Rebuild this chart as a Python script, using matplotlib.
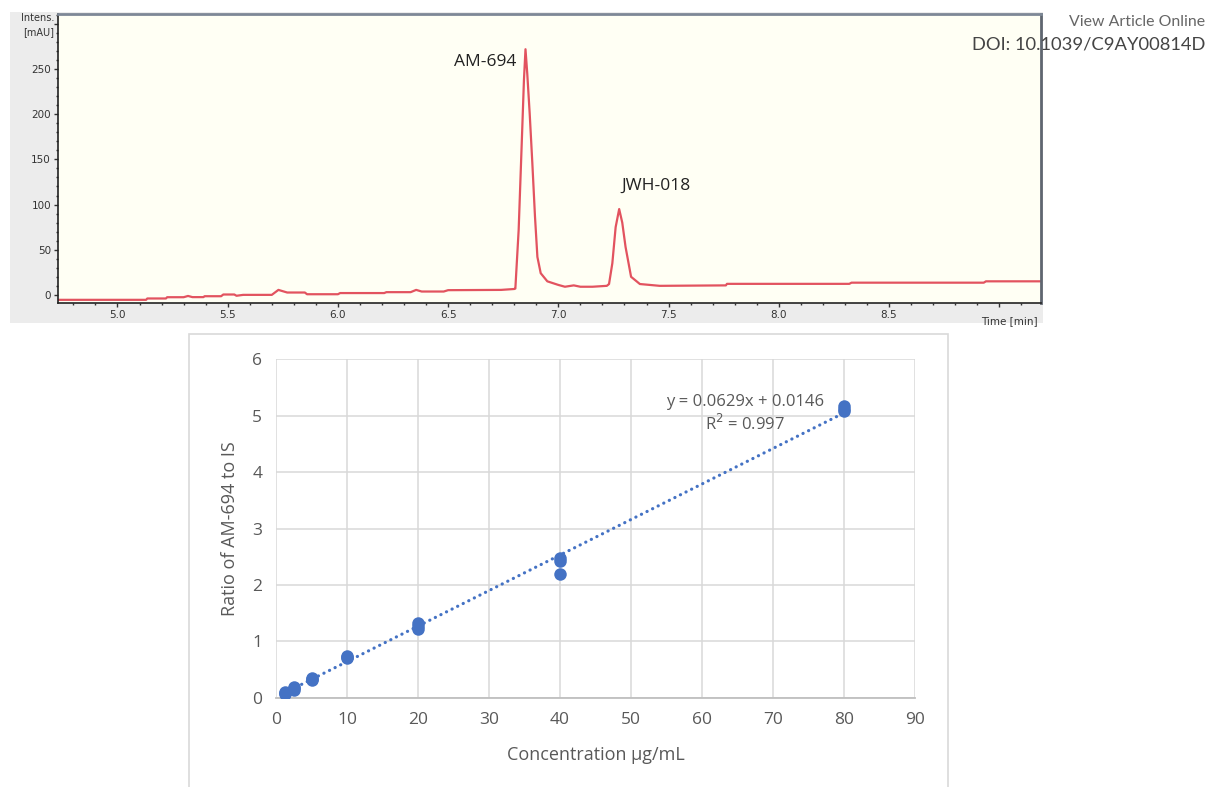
import numpy as np
import matplotlib
matplotlib.use("Agg")
import matplotlib.pyplot as plt
from matplotlib.patches import Rectangle
from matplotlib.ticker import MultipleLocator

# chromatogram trace (time in min, intensity in mAU)
trace_time = [4.73, 5.13, 5.135, 5.22, 5.225, 5.30, 5.32, 5.34, 5.39, 5.395,
              5.47, 5.48, 5.53, 5.54, 5.57, 5.70, 5.73, 5.77, 5.85, 5.86,
              6.00, 6.01, 6.21, 6.22, 6.33, 6.355, 6.38, 6.48, 6.50, 6.74,
              6.80, 6.805, 6.82, 6.836, 6.844, 6.851, 6.859, 6.87, 6.882, 6.894,
              6.905, 6.92, 6.95, 7.00, 7.03, 7.07, 7.10, 7.155, 7.22, 7.23,
              7.245, 7.26, 7.276, 7.29, 7.305, 7.33, 7.37, 7.46, 7.76, 7.765,
              8.32, 8.33, 8.93, 8.94, 9.19]
trace_int = [-5.5, -5.5, -4, -4, -2.6, -2.6, -1.2, -2.5, -2.5, -1.5,
             -1.5, 0.4, 0.4, -1, 0, 0, 5.5, 2.6, 2.6, 0.7,
             0.7, 2, 2, 3, 3, 5.5, 3.7, 3.7, 5.2, 5.5,
             6.5, 7, 72, 182, 238, 272, 245, 201, 146, 87,
             42, 24, 15, 11, 9, 10.5, 9, 9, 10, 12,
             35, 75, 95, 80, 53, 20, 12, 10, 10.5, 12.2,
             12.2, 13.5, 13.5, 15, 15]
peak_names = ["AM-694", "JWH-018"]
peak_label_x = [6.668, 7.445]
peak_label_y = [258, 121]

# calibration data
conc = [1.25, 1.25, 1.25, 2.5, 2.5, 2.5, 5, 5, 5, 10, 10, 10,
        20, 20, 20, 40, 40, 40, 80, 80, 80]
ratio = [0.07, 0.09, 0.10, 0.15, 0.18, 0.20, 0.31, 0.33, 0.35, 0.70, 0.73, 0.75,
         1.23, 1.28, 1.33, 2.20, 2.42, 2.48, 5.08, 5.12, 5.16]
slope = 0.0629
intercept = 0.0146
r2 = 0.997

fig = plt.figure(figsize=(12.08, 7.87), dpi=100)
fig.patch.set_facecolor("white")

# grey panel behind the chromatogram
fig.patches.append(Rectangle((0.0083, 0.5896), 0.855, 0.395, transform=fig.transFigure,
                             facecolor="#ececec", edgecolor="none", zorder=-2))

ax1 = fig.add_axes([0.048, 0.615, 0.8138, 0.3672])
ax1.set_facecolor("#fffff4")
ax1.plot(trace_time, trace_int, color="#e2535f", lw=1.6)
ax1.set_xlim(4.73, 9.19)
ax1.set_ylim(-9, 311)
ax1.xaxis.set_minor_locator(MultipleLocator(0.1))
ax1.yaxis.set_minor_locator(MultipleLocator(10))
ax1.set_yticks([0, 50, 100, 150, 200, 250, 300])
ax1.set_yticklabels(["0", "50", "100", "150", "200", "250", ""])
xt = np.arange(5.0, 9.01, 0.5)
ax1.set_xticks(xt)
ax1.set_xticklabels(["%.1f" % v for v in xt[:-1]] + [""])
ax1.tick_params(axis="both", which="major", labelsize=7.5, color="#333333",
                length=3, width=1, labelcolor="#333333", pad=2)
ax1.tick_params(axis="both", which="minor", length=1.5, width=1, color="#333333")
for s in ["left", "bottom"]:
    ax1.spines[s].set_color("#222222")
    ax1.spines[s].set_linewidth(1.2)
ax1.spines["top"].set_color("#7d8896")
ax1.spines["top"].set_linewidth(2)
ax1.spines["right"].set_color("#5f6670")
ax1.spines["right"].set_linewidth(2)
ax1.text(-0.004, 0.962, "Intens.\n[mAU]", transform=ax1.transAxes, ha="right", va="center",
         fontsize=7, color="#333333", linespacing=1.5)
ax1.text(0.997, -0.045, "Time [min]", transform=ax1.transAxes, ha="right", va="top",
         fontsize=7.5, color="#333333")
for name, px, py in zip(peak_names, peak_label_x, peak_label_y):
    ax1.text(px, py, name, ha="center", va="center", fontsize=12.5,
             family="Open Sans", color="#222222")

fig.text(0.9975, 0.972, "View Article Online", ha="right", va="center",
         fontsize=11.4, family="Lato", color="#666666")
fig.text(0.9975, 0.943, "DOI: 10.1039/C9AY00814D", ha="right", va="center",
         fontsize=13.2, family="Lato", color="#444444")

# frame around the calibration chart
fig.patches.append(Rectangle((0.1565, -0.01), 0.6283, 0.5856, transform=fig.transFigure,
                             facecolor="white", edgecolor="#d9d9d9", lw=1.2, zorder=-2))

ax2 = fig.add_axes([0.2285, 0.1131, 0.529, 0.4307])
ax2.set_facecolor("none")
xs = np.array([min(conc), max(conc)])
ax2.plot(xs, slope * xs + intercept, color="#4472c4", lw=2.3,
         linestyle=(0, (0.05, 1.9)), dash_capstyle="round", zorder=2)
ax2.plot(conc, ratio, "o", color="#4472c4", markersize=9, markeredgewidth=0, zorder=3)
ax2.set_xlim(0, 90)
ax2.set_ylim(0, 6)
ax2.set_xticks(range(0, 91, 10))
ax2.set_yticks(range(0, 7))
ax2.grid(True, color="#d9d9d9", lw=1.1)
ax2.set_axisbelow(True)
for s in ["top", "right", "left"]:
    ax2.spines[s].set_visible(False)
ax2.spines["bottom"].set_color("#bfbfbf")
ax2.spines["bottom"].set_linewidth(1.3)
ax2.tick_params(length=0, labelsize=12.5, labelcolor="#595959", pad=10)
for lab in ax2.get_xticklabels() + ax2.get_yticklabels():
    lab.set_family("Open Sans")
ax2.set_xlabel("Concentration µg/mL", fontsize=13, color="#595959", family="Open Sans")
ax2.set_ylabel("Ratio of AM-694 to IS", fontsize=13, color="#595959", family="Open Sans")
ax2.xaxis.set_label_coords(0.5, -0.143)
ax2.yaxis.set_label_coords(-0.058, 0.5)
ax2.text(66.0, 5.24, "y = %.4fx + %.4f" % (slope, intercept), ha="center", va="center",
         fontsize=12, color="#595959", family="Open Sans")
ax2.text(66.0, 4.85, "R$^2$ = %.3f" % r2, ha="center", va="center",
         fontsize=12, color="#595959", family="Open Sans")

fig.savefig("out.png", dpi=100)
